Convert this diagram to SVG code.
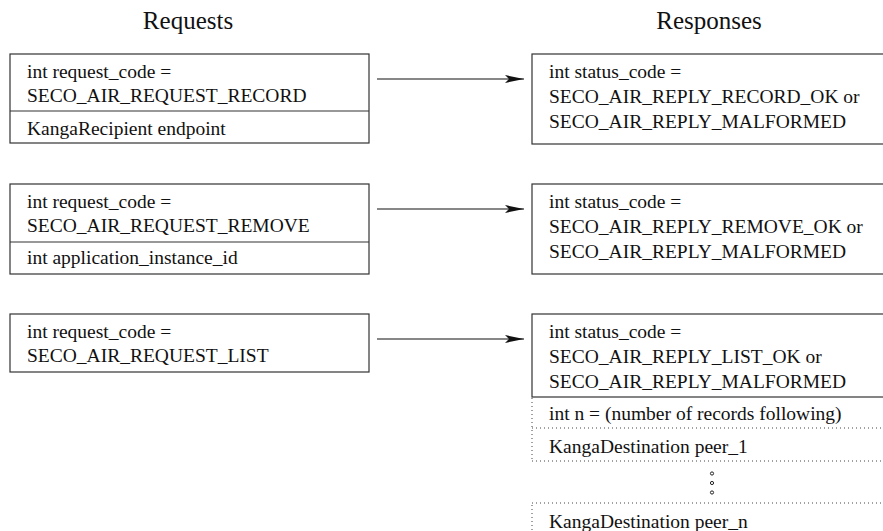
<svg xmlns="http://www.w3.org/2000/svg" width="883" height="531" viewBox="0 0 883 531">
  <style>
    text { font-family: "Liberation Serif", "Times New Roman", serif; fill: #111; }
    .hdr { font-size: 25px; text-anchor: middle; }
    .lbl { font-size: 19.5px; }
    .box { fill: none; stroke: #333; stroke-width: 1.2; }
    .sep { stroke: #333; stroke-width: 1.2; }
    .dot { stroke: #444; stroke-width: 1; stroke-dasharray: 1 3; fill: none; }
    .conn { stroke: #111; stroke-width: 1.2; fill: none; }
    .ell { fill: none; stroke: #222; stroke-width: 1; }
  </style>
  <defs>
    <marker id="arrow" markerUnits="userSpaceOnUse" markerWidth="20" markerHeight="10" refX="19" refY="4" orient="auto">
      <polygon points="0,0 19,4 0,8 4,4" fill="#111"/>
    </marker>
  </defs>

  <rect width="883" height="531" fill="#fff"/>

  <text class="hdr" x="188" y="29">Requests</text>
  <text class="hdr" x="709" y="29">Responses</text>

  <!-- request messages -->
  <g id="req-record">
    <rect class="box" x="10" y="54" width="359" height="89"/>
    <line class="sep" x1="10" y1="111" x2="369" y2="111"/>
    <text class="lbl" x="27" y="78">int request_code =</text>
    <text class="lbl" x="27" y="102">SECO_AIR_REQUEST_RECORD</text>
    <text class="lbl" x="27" y="135">KangaRecipient endpoint</text>
  </g>
  <g id="req-remove">
    <rect class="box" x="10" y="184" width="359" height="90"/>
    <line class="sep" x1="10" y1="242" x2="369" y2="242"/>
    <text class="lbl" x="27" y="208">int request_code =</text>
    <text class="lbl" x="27" y="232">SECO_AIR_REQUEST_REMOVE</text>
    <text class="lbl" x="27" y="264">int application_instance_id</text>
  </g>
  <g id="req-list">
    <rect class="box" x="10" y="314" width="359" height="58"/>
    <text class="lbl" x="27" y="338">int request_code =</text>
    <text class="lbl" x="27" y="362">SECO_AIR_REQUEST_LIST</text>
  </g>

  <!-- response messages (extend past the right edge) -->
  <g id="resp-record">
    <rect class="box" x="532" y="54" width="380" height="90"/>
    <text class="lbl" x="549" y="78">int status_code =</text>
    <text class="lbl" x="549" y="103">SECO_AIR_REPLY_RECORD_OK or</text>
    <text class="lbl" x="549" y="128">SECO_AIR_REPLY_MALFORMED</text>
  </g>
  <g id="resp-remove">
    <rect class="box" x="532" y="184" width="380" height="90"/>
    <text class="lbl" x="549" y="208">int status_code =</text>
    <text class="lbl" x="549" y="233">SECO_AIR_REPLY_REMOVE_OK or</text>
    <text class="lbl" x="549" y="258">SECO_AIR_REPLY_MALFORMED</text>
  </g>
  <g id="resp-list">
    <rect class="box" x="532" y="314" width="380" height="83"/>
    <text class="lbl" x="549" y="338">int status_code =</text>
    <text class="lbl" x="549" y="363">SECO_AIR_REPLY_LIST_OK or</text>
    <text class="lbl" x="549" y="388">SECO_AIR_REPLY_MALFORMED</text>
  </g>
  <g id="resp-list-count">
    <line class="dot" x1="532" y1="398" x2="532" y2="428"/>
    <line class="dot" x1="532" y1="428" x2="883" y2="428"/>
    <text class="lbl" x="549" y="420">int n = (number of records following)</text>
  </g>
  <g id="resp-list-peer1">
    <line class="dot" x1="532" y1="430" x2="532" y2="461"/>
    <line class="dot" x1="532" y1="461" x2="883" y2="461"/>
    <text class="lbl" x="549" y="453">KangaDestination peer_1</text>
  </g>
  <g id="resp-list-ellipsis">
    <circle class="ell" cx="712" cy="473.5" r="1.6"/>
    <circle class="ell" cx="712" cy="483" r="1.6"/>
    <circle class="ell" cx="712" cy="492.5" r="1.6"/>
  </g>
  <g id="resp-list-peern">
    <line class="dot" x1="532" y1="503" x2="883" y2="503"/>
    <line class="dot" x1="532" y1="505" x2="532" y2="531"/>
    <text class="lbl" x="549" y="528">KangaDestination peer_n</text>
  </g>

  <g id="connectors">
    <line class="conn" x1="377" y1="79" x2="524" y2="79" marker-end="url(#arrow)"/>
    <line class="conn" x1="377" y1="209" x2="524" y2="209" marker-end="url(#arrow)"/>
    <line class="conn" x1="377" y1="339" x2="524" y2="339" marker-end="url(#arrow)"/>
  </g>
</svg>
